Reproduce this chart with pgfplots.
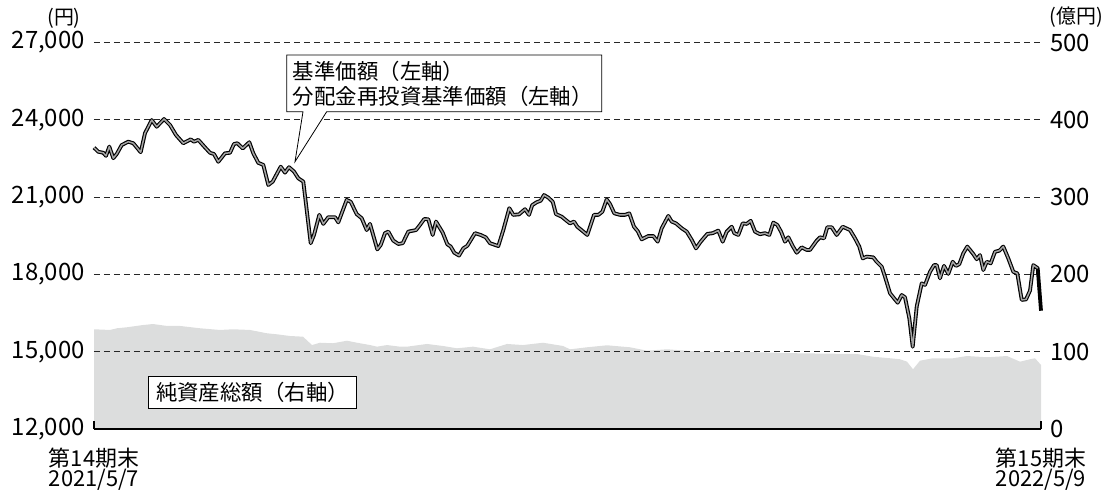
\documentclass[border=0pt]{standalone}
\usepackage{pgfplots}
\pgfplotsset{compat=1.18}
\usepackage{pgfplotstable}
\usepackage{fontspec}
\setmainfont{Noto Sans CJK JP}
\definecolor{areagray}{RGB}{220,221,221}
\definecolor{innergray}{RGB}{165,165,165}

% net assets (oku yen), right axis
\pgfplotstableread{
x y
0 129.0
16 128.1
23 130.3
33 131.6
49 134.5
59 135.8
73 133.3
86 133.3
106 130.3
126 128.1
139 129.0
156 128.1
173 123.8
183 122.5
196 120.3
209 119.4
218 108.6
226 111.6
239 110.9
253 114.2
263 111.6
276 108.6
283 106.5
293 108.6
306 106.5
313 106.5
333 110.0
349 107.4
363 104.4
379 106.5
396 103.1
413 110.0
429 108.6
449 111.6
469 107.4
476 103.1
493 105.7
513 108.3
536 105.7
553 101.3
573 103.1
606 100.0
656 99.5
706 97.9
763 97.0
779 93.5
796 91.5
806 90.2
813 87.1
819 77.2
826 88.4
839 91.5
859 91.5
873 94.4
893 92.8
913 94.4
926 87.1
936 90.2
941 91.5
947 82.8
}\assets

% base price (yen), left axis
\pgfplotstableread{
x y
0 22920
4.3 22760
9.3 22720
12 22600
15.3 22960
19.3 22510
22.7 22670
27.7 23020
34.3 23150
39.3 23090
46.7 22740
51 23480
57.7 23990
62.7 23730
70 24030
76 23800
82 23410
89.3 23090
96.7 23240
100 23150
104.3 23220
111 22930
116 22720
120 22670
124.3 22370
131 22700
136 22720
140 23060
143.3 23090
148.7 22890
155.3 23130
159.3 22700
164.3 22330
169.3 22250
174.3 21470
178.7 21600
186.7 22180
191 21950
195 22160
200 21990
204.3 21730
209.3 21600
216.7 19210
220 19530
225.3 20310
229.3 19960
234.3 20220
241 20220
244.3 20020
252.7 20890
256.7 20820
262.7 20340
267.7 20180
272.7 19720
276 19960
283.3 18970
286.7 19140
291 19600
294.3 19660
299.3 19310
304.3 19180
308.7 19210
314.3 19660
322 19720
326 19920
330.3 20150
334.3 20140
338.7 19530
342 20050
348.7 19620
353.3 19170
356.7 19080
360.3 18840
365 18730
369.3 19010
373.3 19110
381 19600
386.7 19530
391.7 19440
396 19210
404.3 19100
409.3 19720
415.3 20570
419.3 20310
425 20330
431 20530
435 20310
438.3 20690
442.7 20800
446.7 20860
450 21080
454.3 20980
458.7 20820
462 20340
467.7 20240
472.7 20080
476 19980
480 20050
483.3 19850
488.7 19680
493.3 19530
500 20310
504.3 20310
508.3 20430
512.7 20910
516 20730
520.3 20370
526 20310
531 20310
535.3 20370
540 19850
543.7 19680
547.7 19360
554.3 19490
559.3 19490
563.7 19270
567.7 19790
574.3 20270
577.7 20050
582 19980
587.7 19790
592.7 19660
597.7 19340
602 19010
606.7 19270
613.3 19570
618.7 19600
624.3 19700
628.7 19270
632.7 19660
637.7 19850
640.3 19600
644.3 19530
648.7 19980
652.7 19960
656.7 20080
661 19660
666 19560
671 19600
675.3 19530
679.3 20010
683.3 19920
687 19660
691 19270
694.3 19440
698.7 19100
702.7 18840
707.7 19050
712.7 18950
716 18950
722.7 19310
726 19440
730 19400
733.3 19830
737.7 19830
742.7 19530
748.7 19850
756 19720
761 19400
765.3 19080
768.7 18620
772.7 18690
779.3 18660
782.7 18490
787.7 18300
791 17910
796 17270
799.3 17110
803.7 16900
807.7 17200
811 17110
815.3 16300
818.7 15190
822.7 16750
827.7 17650
831 17590
836 18100
840 18360
842.7 18360
846 17850
850 18330
854.3 18020
858.7 18490
862 18330
865.3 18400
869.3 18820
873.3 19080
879.3 18790
882.7 18590
886 18750
889.3 18170
892.7 18490
896.7 18430
901 18880
905.3 18920
909.3 19080
914.3 18620
919.3 18100
923.3 18040
927.7 17010
932 17030
936 17370
939.3 18360
943.7 18240
947 16590
}\price

\pgfplotsset{
  basestyle/.style={
    width=947bp, height=386.5bp, scale only axis,
    xmin=0, xmax=947,
    /pgf/number format/assume math mode=true,
    scaled y ticks=false,
  },
}

\begin{document}
\begin{tikzpicture}
% right axis: net assets area
\begin{axis}[basestyle,
  ymin=0, ymax=500,
  ytick={0,100,200,300,400,500},
  hide x axis,
  axis y line*=right,
  y axis line style={draw=none},
  ytick style={draw=none},
  yticklabel style={font=\fontsize{24}{24}\selectfont, inner sep=0pt, xshift=9bp, anchor=west},
]
\addplot[fill=areagray, draw=none] table[x=x, y=y] {\assets} \closedcycle;
\end{axis}

% left axis: prices
\begin{axis}[basestyle,
  ymin=12000, ymax=27000,
  ytick={12000,15000,18000,21000,24000,27000},
  /pgf/number format/1000 sep={,},
  axis x line*=bottom,
  axis y line*=left,
  x axis line style={-, line width=2.5bp, black},
  y axis line style={draw=none},
  ytick style={draw=none},
  xtick={0,947},
  xticklabels={{第14期末\\2021/5/7},{第15期末\\2022/5/9}},
  tick align=inside,
  major tick length=8bp,
  xtick style={black, line width=2bp},
  xticklabel style={font=\fontsize{22}{18.5}\selectfont, align=center, inner sep=0pt, yshift=-19bp},
  yticklabel style={font=\fontsize{24}{24}\selectfont, inner sep=0pt, xshift=-9bp, anchor=east},
  ymajorgrids,
  major grid style={black!85, line width=0.9bp, dash pattern=on 6bp off 4bp},
  clip=false,
]
\addplot[black, line width=3.8bp, line join=round] table[x=x, y=y] {\price};
\addplot[innergray, line width=1.5bp, line join=round, restrict x to domain=0:944] table[x=x, y=y] {\price};
\end{axis}

% callout for the price lines
\draw[fill=white, line width=0.8bp, line join=miter]
  (192.7bp,317.3bp) -- (209bp,317.3bp) -- (201bp,267.3bp) -- (232.7bp,317.3bp)
  -- (507.7bp,317.3bp) -- (507.7bp,374bp) -- (192.7bp,374bp) -- cycle;
\node[anchor=west, inner sep=0pt, font=\fontsize{21.5}{21.5}\selectfont] at (198.7bp,357.3bp) {基準価額（左軸）};
\node[anchor=west, inner sep=0pt, font=\fontsize{21.5}{21.5}\selectfont] at (198.7bp,332.3bp) {分配金再投資基準価額（左軸）};

% label for the area
\draw[fill=white, line width=0.8bp] (54.3bp,20.7bp) rectangle (262.7bp,53bp);
\node[inner sep=0pt, font=\fontsize{21.5}{21.5}\selectfont] at (158.5bp,36.8bp) {純資産総額（右軸）};

% units
\node[inner sep=0pt, font=\fontsize{20}{20}\selectfont] at (-30bp,411bp) {(円)};
\node[inner sep=0pt, font=\fontsize{20}{20}\selectfont] at (982.5bp,412bp) {(億円)};

\path[use as bounding box] (-94bp,-55bp) rectangle (1016bp,429bp);
\end{tikzpicture}
\end{document}
